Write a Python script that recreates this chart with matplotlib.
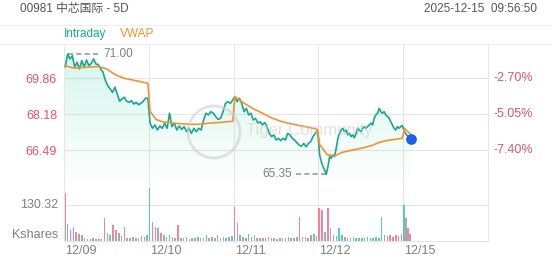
import numpy as np
import matplotlib
matplotlib.use("Agg")
import matplotlib.pyplot as plt
from matplotlib.patches import Ellipse
from matplotlib.lines import Line2D

plt.rcParams['font.family'] = ['Liberation Sans', 'Noto Sans CJK SC', 'DejaVu Sans']

# ---- data ----
days = ["12/09", "12/10", "12/11", "12/12", "12/15"]

price_d1 = [70.40, 71.00, 70.77, 70.92, 70.38, 70.61, 70.30, 70.69, 70.38, 70.72, 70.45, 70.56,
            70.77, 70.53, 70.50, 70.30, 70.14, 69.75, 69.51, 69.36, 69.20, 69.44, 69.12, 68.78,
            68.89, 68.97, 68.78, 68.73, 68.81, 68.65, 68.73, 68.62, 68.68, 68.78, 68.93, 68.92]
price_d2 = [67.75, 67.51, 67.67, 67.43, 67.62, 67.51, 67.75, 67.51, 68.22, 67.59, 67.75, 67.43,
            67.62, 67.46, 67.59, 67.35, 67.51, 67.27, 67.51, 67.35, 67.51, 67.43, 67.90, 68.22,
            68.14, 68.29, 68.22, 68.06, 67.93, 67.98, 68.29, 68.68, 68.76, 68.68, 68.84]
price_d3 = [69.00, 68.76, 68.92, 68.68, 68.29, 68.45, 68.14, 68.22, 67.90, 67.98, 67.75, 67.82,
            67.67, 67.78, 67.59, 67.27, 67.12, 67.20, 66.96, 67.04, 66.93, 67.04, 66.96, 67.27,
            67.20, 67.04, 66.96, 66.83, 66.72, 66.67, 66.80, 66.64, 66.80, 66.88, 67.12, 67.27, 67.43]
price_d4 = [66.26, 65.94, 65.71, 65.55, 65.35, 65.71, 66.18, 66.10, 66.26, 66.18, 66.57, 67.04,
            67.27, 67.43, 67.51, 67.35, 67.43, 67.20, 67.27, 67.12, 67.20, 67.07, 67.27, 67.51,
            67.43, 67.35, 67.51, 67.59, 67.51, 67.59, 67.67, 67.75, 67.67, 67.98, 68.14, 68.22,
            68.45, 68.29, 68.22, 68.29, 68.14, 68.06, 67.98, 67.82, 67.67, 67.51, 67.43, 67.59,
            67.51, 67.59, 67.64]
price_d5 = [67.35, 67.20, 67.12, 67.03]

vwap_d1 = [70.45, 70.34, 70.36, 70.39, 70.41, 70.30, 70.04, 69.87, 69.79, 69.71, 69.62]
vwap_d2 = [68.30, 67.93, 67.82, 67.78, 67.75, 67.73, 67.71, 67.70, 67.70, 67.72, 67.75, 67.77,
           67.79, 67.82, 67.84]
vwap_d3 = [69.00, 68.69, 68.43, 68.22, 68.00, 67.84, 67.73, 67.64, 67.56, 67.46]
vwap_d4 = [66.75, 66.27, 66.22, 66.38, 66.46, 66.53, 66.61, 66.71, 66.86, 66.94, 66.99, 67.04]
vwap_d5 = [67.51, 67.35, 67.23]

# volume in thousand shares, colour code: g up, r down, n flat
vol_d1 = [172, 60, 40, 52, 34, 24, 22, 12, 8, 6, 10, 8, 6, 8, 82, 30, 20, 58, 40, 28,
          18, 52, 12, 10, 14, 10, 12, 18, 14, 22]
col_d1 = "rgrrnrgnnnnnrrrngrnnnrnnnnggng"
vol_d2 = [191, 70, 52, 46, 28, 22, 14, 22, 16, 12, 58, 12, 10, 14, 8, 12, 10, 16, 12, 10,
          22, 12, 14, 10, 22, 12, 14, 10, 15, 18]
col_d2 = "grrnrgngnnrngnngnngngnngrnngng"
vol_d3 = [124, 64, 22, 14, 12, 24, 14, 20, 12, 10, 12, 10, 14, 10, 12, 8, 12, 10, 10, 14,
          12, 10, 14, 88, 14, 14, 12, 20, 26, 18]
col_d3 = "rngnrggnnrnnnrnnrnnrngnrnnrngn"
vol_d4 = [118, 112, 34, 118, 46, 22, 18, 46, 20, 14, 12, 10, 14, 12, 12, 10, 12, 14, 10, 12,
          14, 12, 88, 20, 18, 20, 16, 22, 18, 24]
col_d4 = "rrnrnngggnnnngggggggggggrrrrrr"
vol_d5 = [130, 82, 46, 24]
col_d5 = "gnrr"

tick_prices = [66.49, 68.18, 69.86]
tick_pcts = ["-7.40%", "-5.05%", "-2.70%"]
vol_tick = 130.32
high_label, low_label = "71.00", "65.35"

# ---- styling ----
TEAL = '#17a892'
ORANGE = '#f5912e'
RED = '#e8506b'
GREY = '#808080'
GRID = '#e6e6e6'
VCOL = {'g': '#3fc4ae', 'r': '#f26d88', 'n': '#a3969c'}

W, H = 552, 265


def box(l, t, r, b):
    return [l / W, 1 - b / H, (r - l) / W, (b - t) / H]


def px(x, y):
    return x / W, 1 - y / H


fig = plt.figure(figsize=(W / 100, H / 100), dpi=100)
fig.patch.set_facecolor('white')

ax = fig.add_axes(box(64, 44, 488, 186))
axv = fig.add_axes(box(64, 186, 488, 241))

price_days = [price_d1, price_d2, price_d3, price_d4, price_d5]
vwap_days = [vwap_d1, vwap_d2, vwap_d3, vwap_d4, vwap_d5]
ends = [0.99, 0.99, 0.99, 0.99, 0.09]

xp, yp = [], []
for i, (p, e) in enumerate(zip(price_days, ends)):
    xp += list(i + np.linspace(0.015, e, len(p)))
    yp += p
xw, yw = [], []
for i, (v, e) in enumerate(zip(vwap_days, ends)):
    xw += list(i + np.linspace(0.015, e, len(v)))
    yw += v
xp, yp = np.array(xp), np.array(yp)

ylo, yhi = 64.80, 71.47
ax.set_xlim(0, 5)
ax.set_ylim(ylo, yhi)

# gradient fill under the intraday line
poly = ax.fill_between(xp, yp, ylo, facecolor='none', edgecolor='none')
grad = np.zeros((256, 1, 4))
grad[:, 0, :3] = matplotlib.colors.to_rgb('#2fd0a0')
grad[:, 0, 3] = np.linspace(0.2, 0.0, 256)
img = ax.imshow(grad, extent=[0, xp[-1], ylo, yp.max()], aspect='auto', origin='upper', zorder=1)
img.set_clip_path(poly.get_paths()[0], transform=ax.transData)

ax.plot(xp, yp, color=TEAL, lw=1.2, zorder=3)
ax.plot(xw, yw, color=ORANGE, lw=1.2, zorder=3)
ax.scatter([xp[-1]], [yp[-1]], s=45, color='#1f5cf0', zorder=5)

for tp in tick_prices:
    ax.axhline(tp, color=GRID, lw=0.8, zorder=0)
for d in range(1, 5):
    ax.axvline(d, color=GRID, lw=0.8, zorder=0)
    axv.axvline(d, color=GRID, lw=0.8, zorder=0)

ax.set_xticks([])
ax.set_yticks(tick_prices)
ax.set_yticklabels([f"{t:.2f}" for t in tick_prices], color=RED, fontsize=9)
ax.tick_params(axis='y', length=0, pad=5)
for t, lab in zip(tick_prices, tick_pcts):
    ax.text(1.0 + 6 / 424, t, lab, transform=ax.get_yaxis_transform(), color=RED,
            fontsize=9, va='center', ha='left')
for s in ['left', 'right', 'top']:
    ax.spines[s].set_color(GRID)
ax.spines['bottom'].set_visible(False)

# high / low markers
imax, imin = int(np.argmax(yp)), int(np.argmin(yp))
ax.plot([xp[imax] + 0.01, xp[imax] + 0.37], [yp[imax]] * 2, ls=(0, (3, 2)), color='#999999', lw=1.2)
ax.text(xp[imax] + 0.42, yp[imax], high_label, color=GREY, fontsize=8.5, va='center', ha='left')
ax.plot([xp[imin] - 0.36, xp[imin]], [yp[imin]] * 2, ls=(0, (3, 2)), color='#999999', lw=1.2)
ax.text(xp[imin] - 0.41, yp[imin], low_label, color=GREY, fontsize=8.5, va='center', ha='right')

# volume
vol_days = [vol_d1, vol_d2, vol_d3, vol_d4, vol_d5]
col_days = [col_d1, col_d2, col_d3, col_d4, col_d5]
for i, (v, c, e) in enumerate(zip(vol_days, col_days, ends)):
    xv = i + np.linspace(0.01, e - 0.01, len(v))
    wd = 0.018 if len(v) > 10 else 0.016
    axv.bar(xv, v, width=wd, color=[VCOL[k] for k in c], alpha=0.85, zorder=2, lw=0)
axv.set_xlim(0, 5)
axv.set_ylim(0, 199)
axv.axhline(vol_tick, color=GRID, lw=0.8, zorder=0)
axv.set_yticks([])
axv.set_xticks([])
for s in ['left', 'right', 'bottom']:
    axv.spines[s].set_color(GRID)
axv.spines['top'].set_visible(False)
axv.text(-6 / 424, vol_tick, f"{vol_tick:.2f}", transform=axv.get_yaxis_transform(),
         color=GREY, fontsize=9, ha='right', va='center')
fig.text(*px(58, 235), "Kshares", color=GREY, fontsize=9, ha='right', va='center')

for i, d in enumerate(days):
    fig.text(*px(64 + i * 84.8 + 1, 251), d, color=GREY, fontsize=9, ha='left', va='center')

# header
fig.text(*px(20, 9), "00981 中芯国际 - 5D", color='#555555', fontsize=8.5, ha='left', va='center')
fig.text(*px(537, 9), "2025-12-15  09:56:50", color='#555555', fontsize=8.5, ha='right', va='center')
fig.add_artist(Line2D([0, 1], [1 - 25 / H] * 2, color='#eeeeee', lw=0.8))
fig.add_artist(Line2D([0, 1], [1 - 44 / H] * 2, color='#eeeeee', lw=0.8))
fig.text(*px(64, 34), "Intraday", color=TEAL, fontsize=8.5, ha='left', va='center')
fig.text(*px(120, 34), "VWAP", color=ORANGE, fontsize=8.5, ha='left', va='center')

# faint watermark
fig.add_artist(Ellipse(px(214, 132), 52 / W, 52 / H, transform=fig.transFigure,
                       fill=False, ec='#cfcfcf', lw=2.0, alpha=0.6))
fig.text(*px(246, 131), "Tiger Community", color='#c8c8c8', alpha=0.55, fontsize=12,
         ha='left', va='center')

fig.savefig("out.png", dpi=100)
